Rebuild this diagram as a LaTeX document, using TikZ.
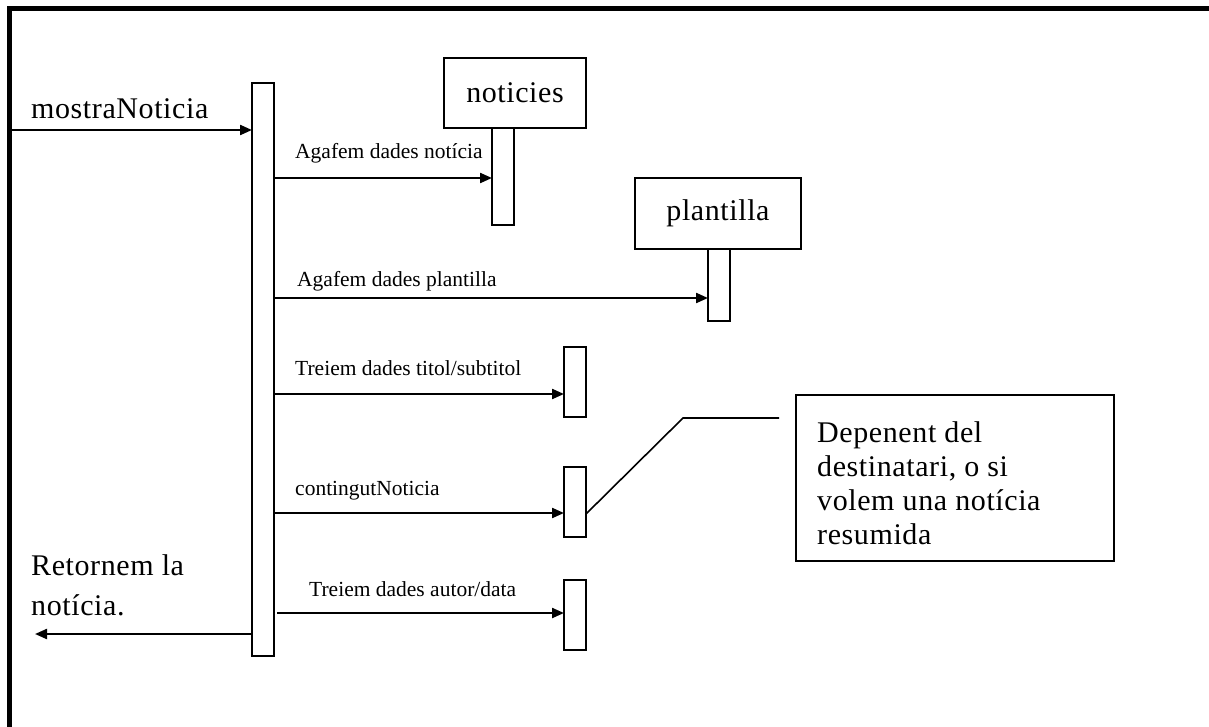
\documentclass[tikz,border=0pt]{standalone}
\usepackage{fontspec}
\setmainfont{Liberation Serif}
\newfontfamily\widefont{Liberation Serif}[LetterSpace=2]
\usetikzlibrary{arrows.meta}
\begin{document}
\begin{tikzpicture}[x=1pt,y=-1pt,
  box/.style={draw, line width=2.2pt, inner sep=0pt, outer sep=0pt, anchor=north west},
  msg/.style={line width=2.2pt, -{Triangle[length=12pt,width=10pt]}},
  lbl/.style={inner sep=0pt, anchor=base west, font=\fontsize{21.5}{25}\selectfont},
  bigfont/.style={font=\widefont\fontsize{30}{34}\selectfont},
  big/.style={inner sep=0pt, bigfont}]
\useasboundingbox (0,0) rectangle (1209,727);

% frame (only its top and left edges fall inside the page)
\draw[line width=4.5pt] (9.5,740) -- (9.5,8.5) -- (1220,8.5);

% lifelines and activation bars
\node[box, minimum width=22pt, minimum height=573pt] (main) at (252,83) {};
\node[box, minimum width=22pt, minimum height=97pt] (nbar) at (492,128) {};
\node[box, minimum width=142pt, minimum height=70pt, fill=white, bigfont] (nhead) at (444,58) {noticies};
\node[box, minimum width=22pt, minimum height=72pt] (pbar) at (708,249) {};
\node[box, minimum width=166pt, minimum height=71pt, fill=white, bigfont] (phead) at (635,178) {plantilla};
\node[box, minimum width=22pt, minimum height=70pt] (tbar) at (564,347) {};
\node[box, minimum width=22pt, minimum height=70pt] (cbar) at (564,467) {};
\node[box, minimum width=22pt, minimum height=70pt] (abar) at (564,580) {};

% note
\node[box, minimum width=318pt, minimum height=166pt] (note) at (796,395) {};
\node[big, align=left, anchor=north west] (notetext) at (817,421)
  {Depenent del\\destinatari, o si\\volem una notícia\\resumida};
\coordinate (bend) at (683,418);
\coordinate (noteend) at (779,418);
\draw[line width=1.6pt] (cbar.east |- 0,514) -- (bend) -- (noteend);

% incoming and returning messages
\coordinate (inL) at (11,130);
\coordinate (outL) at (35,634);
\node[big, anchor=base west] (inlbl) at (31,119) {mostraNoticia};
\draw[msg] (inL) -- (main.west |- inL);
\node[big, anchor=north west, align=left] (retlbl) at (31,554.5)
  {Retornem la\\[6pt]notícia.};
\draw[msg] (main.west |- outL) -- (outL);

% calls
\node[lbl] (l1) at (295,159) {Agafem dades notícia};
\draw[msg] (main.east |- 0,178) -- (nbar.west |- 0,178);
\node[lbl] (l2) at (297,287) {Agafem dades plantilla};
\draw[msg] (main.east |- 0,298) -- (pbar.west |- 0,298);
\node[lbl] (l3) at (295,375) {Treiem dades titol/subtitol};
\draw[msg] (main.east |- 0,394) -- (tbar.west |- 0,394);
\node[lbl] (l4) at (295,495) {contingutNoticia};
\draw[msg] (main.east |- 0,513) -- (cbar.west |- 0,513);
\node[lbl] (l5) at (309,596) {Treiem dades autor/data};
\draw[msg] ([xshift=3pt]main.east |- 0,613) -- (abar.west |- 0,613);
\end{tikzpicture}
\end{document}
